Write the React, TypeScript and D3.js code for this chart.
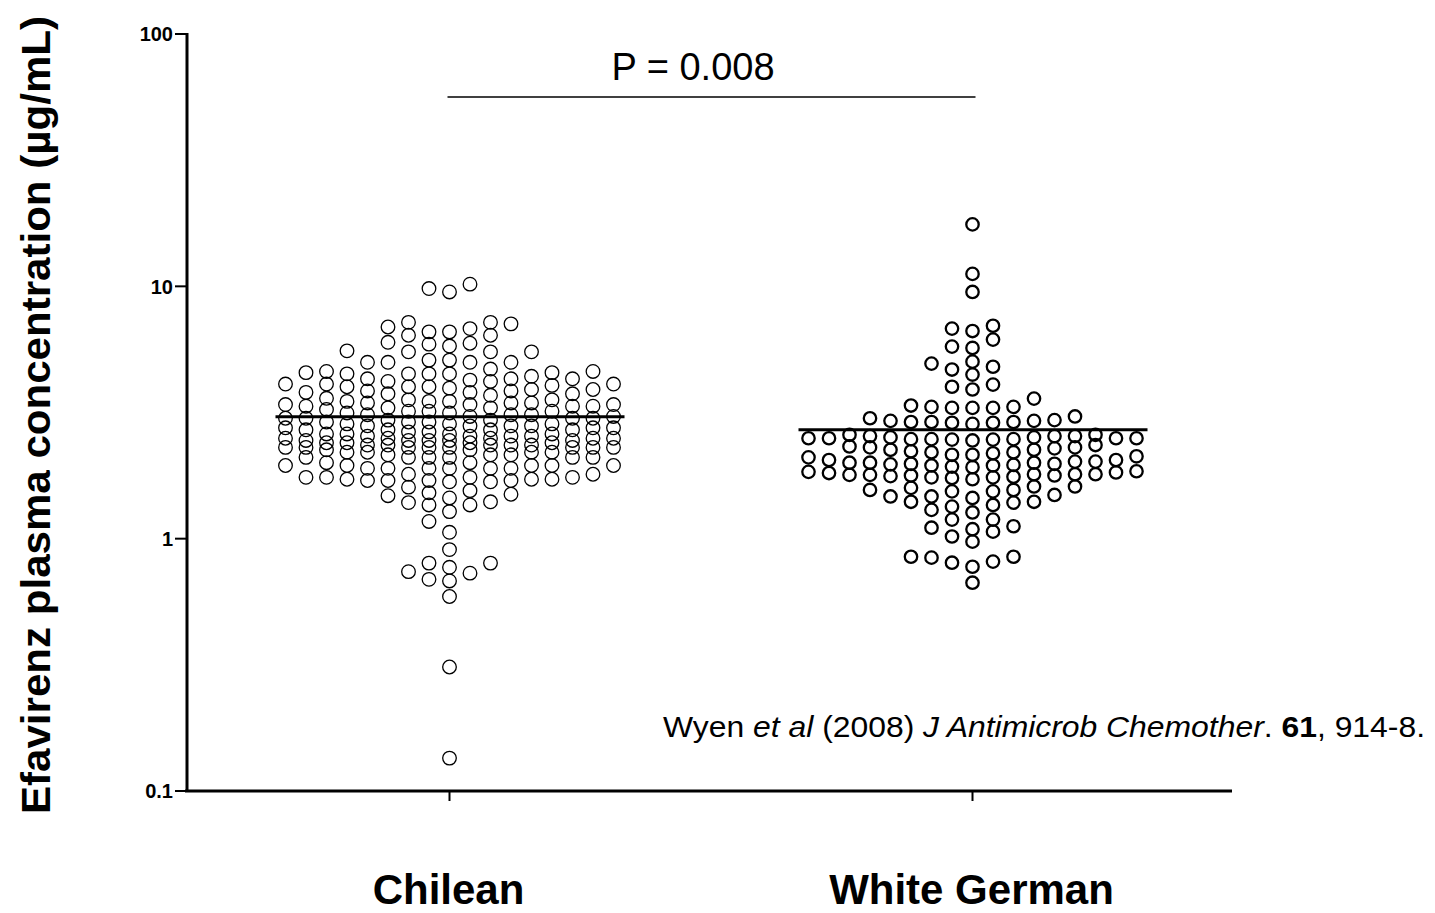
import { useEffect, useRef } from "react"
import * as d3 from "d3"

// values (µg/mL)
const chilean = [
  10.2, 9.8, 9.5,
  7.2, 7.2, 7.1, 6.9, 6.8, 6.6, 6.6, 6.4, 6.4,
  6.0, 5.95, 5.9, 5.8,
  5.55, 5.5, 5.5, 5.5,
  5.1, 5.1, 5.0, 5.0, 5.0, 5.0,
  4.7,
  4.6, 4.6, 4.55, 4.55, 4.5, 4.5, 4.5, 4.5, 4.4,
  4.3, 4.3, 4.3, 4.25, 4.2, 4.2, 4.1, 4.1, 4.1, 4.05, 4.0, 4.0, 4.0,
  3.95, 3.9, 3.9, 3.85, 3.85, 3.8, 3.8, 3.75, 3.75, 3.7,
  3.6, 3.55, 3.55, 3.5, 3.5, 3.5, 3.45, 3.45, 3.45, 3.4, 3.4, 3.4, 3.35, 3.35, 3.35, 3.3, 3.3,
  3.25, 3.2, 3.2, 3.2, 3.15, 3.15, 3.1, 3.1, 3.1, 3.05, 3.05, 3.0, 3.0, 3.0, 3.0, 2.95, 2.95,
  2.9, 2.9, 2.9, 2.85, 2.85, 2.85, 2.8, 2.8, 2.8, 2.8, 2.75, 2.75, 2.75, 2.7, 2.7, 2.7, 2.7,
  2.65, 2.65, 2.6, 2.6, 2.6, 2.6, 2.55, 2.55, 2.55, 2.55, 2.5, 2.5, 2.5, 2.5, 2.5, 2.45, 2.45, 2.45, 2.45, 2.45,
  2.4, 2.4, 2.4, 2.4, 2.35, 2.35, 2.35, 2.35, 2.35, 2.3, 2.3, 2.3, 2.3, 2.3, 2.3, 2.3, 2.3,
  2.25, 2.25, 2.2, 2.2, 2.2, 2.2, 2.15, 2.15, 2.15, 2.1, 2.1, 2.1, 2.1, 2.1, 2.1,
  2.0, 2.0, 1.95, 1.95, 1.95, 1.95, 1.95, 1.9, 1.9, 1.9, 1.9, 1.9, 1.9,
  1.8, 1.8, 1.75, 1.75, 1.75, 1.75, 1.72, 1.72, 1.72, 1.7, 1.7, 1.7, 1.7, 1.68, 1.68,
  1.6, 1.55, 1.52, 1.5, 1.48, 1.45,
  1.40, 1.39, 1.36, 1.36, 1.28, 1.17, 1.06, 0.905, 0.80, 0.80, 0.77, 0.74, 0.73, 0.69, 0.68, 0.59, 0.31, 0.135,
]

const whiteGerman = [
  17.6, 11.2, 9.5,
  6.98, 6.8, 6.65, 6.15, 5.77, 5.7,
  5.03, 4.94, 4.8, 4.68, 4.47,
  4.08, 4.0, 3.9,
  3.59, 3.37, 3.33, 3.33, 3.3, 3.3, 3.3,
  3.05, 2.95, 2.93, 2.93, 2.9, 2.9, 2.88, 2.88, 2.85, 2.9, 3.0,
  2.58, 2.55, 2.55, 2.52, 2.52, 2.5, 2.5, 2.5, 2.5, 2.48, 2.48, 2.48, 2.47, 2.47, 2.45, 2.55, 2.58,
  2.35, 2.32, 2.3, 2.3, 2.28, 2.25, 2.25, 2.22, 2.2, 2.2, 2.18, 2.15, 2.15, 2.12, 2.1,
  2.05, 2.05, 2.02, 2.02, 2.0, 2.0, 2.0, 1.98, 1.98, 1.97, 1.96, 1.95, 1.95, 1.93, 1.92,
  1.85, 1.84, 1.83, 1.82, 1.8, 1.8, 1.8, 1.79, 1.79, 1.78, 1.78, 1.77, 1.76, 1.75, 1.75, 1.74, 1.72,
  1.61, 1.61, 1.59, 1.56, 1.56, 1.54, 1.54, 1.49, 1.47, 1.47, 1.45, 1.40, 1.40, 1.39,
  1.36, 1.34, 1.30, 1.27,
  1.19, 1.19, 1.12, 1.105, 1.09, 1.066, 1.02, 0.973,
  0.848, 0.848, 0.841, 0.811, 0.803, 0.774,
  0.669,
]

const groups = ["Chilean", "White German"]
const medians = [3.04, 2.7]
const yTicks = [0.1, 1, 10, 100]
const pValue = "P = 0.008"

const FONT = "Liberation Sans, Arial, sans-serif"

// column-scatter layout like Prism: lowest values first, each into the
// nearest free column; when every column is taken the dots overlap
function swarm(values, y, colStep, maxCols, minGap) {
  const order = [0]
  for (let k = 1; k <= maxCols; k++) order.push(-k, k)
  const cols = new Map()
  const out = []
  const sorted = [...values].sort((a, b) => a - b)
  sorted.forEach(v => {
    const yy = y(v)
    let pick = null
    let bestGap = -1, bestK = 0
    for (const k of order) {
      const ys = cols.get(k) || []
      const gap = ys.length ? d3.min(ys, o => Math.abs(o - yy)) : Infinity
      if (gap >= minGap) { pick = k; break }
      if (gap > bestGap) { bestGap = gap; bestK = k }
    }
    if (pick === null) pick = bestK
    if (!cols.has(pick)) cols.set(pick, [])
    cols.get(pick).push(yy)
    out.push({ v, dx: pick * colStep })
  })
  return out
}

const App = () => {
  const ref = useRef()

  useEffect(() => {
    const width = 1435
    const height = 913

    d3.select(ref.current).selectAll("*").remove()
    const svg = d3.select(ref.current)
      .append("svg")
      .attr("width", width)
      .attr("height", height)
      .style("position", "absolute")
      .style("left", 0)
      .style("top", 0)
      .style("background", "white")

    const y = d3.scaleLog().domain([0.1, 100]).range([791, 34])
    const x = d3.scalePoint().domain(groups).range([188, 1234]).padding(0.5)

    // y axis
    svg.append("line")
      .attr("x1", 187).attr("x2", 187)
      .attr("y1", y(100) - 1).attr("y2", y(0.1) + 1)
      .attr("stroke", "black").attr("stroke-width", 3)
    const yt = svg.append("g")
    yt.selectAll("line").data(yTicks).join("line")
      .attr("x1", 175).attr("x2", 187)
      .attr("y1", d => y(d)).attr("y2", d => y(d))
      .attr("stroke", "black").attr("stroke-width", 2)
    yt.selectAll("text").data(yTicks).join("text")
      .attr("x", 173).attr("y", d => y(d))
      .attr("dy", "0.36em")
      .attr("text-anchor", "end")
      .attr("font-family", FONT).attr("font-weight", "bold").attr("font-size", 20)
      .text(d => d3.format("~g")(d))

    // x axis
    svg.append("line")
      .attr("x1", 185).attr("x2", 1232)
      .attr("y1", 791).attr("y2", 791)
      .attr("stroke", "black").attr("stroke-width", 3)
    svg.append("g").selectAll("line").data(groups).join("line")
      .attr("x1", d => x(d)).attr("x2", d => x(d))
      .attr("y1", 791).attr("y2", 801)
      .attr("stroke", "black").attr("stroke-width", 2)
    svg.append("g").selectAll("text").data(groups).join("text")
      .attr("x", d => x(d) - 1).attr("y", 904)
      .attr("text-anchor", "middle")
      .attr("font-family", FONT).attr("font-weight", "bold").attr("font-size", 42)
      .text(d => d)

    // y label
    svg.append("text")
      .attr("transform", "translate(50,415) rotate(-90)")
      .attr("text-anchor", "middle")
      .attr("font-family", FONT).attr("font-weight", "bold").attr("font-size", 41)
      .attr("textLength", 798).attr("lengthAdjust", "spacingAndGlyphs")
      .text("Efavirenz plasma concentration (µg/mL)")

    // dots
    const sets = [
      { name: groups[0], values: chilean, r: 6.8, sw: 1.3, gap: 12 },
      { name: groups[1], values: whiteGerman, r: 6.2, sw: 2.3, gap: 12 },
    ]
    sets.forEach(s => {
      const pts = swarm(s.values, y, 20.5, 8, s.gap)
      svg.append("g")
        .selectAll("circle")
        .data(pts)
        .join("circle")
        .attr("cx", d => x(s.name) + d.dx)
        .attr("cy", d => y(d.v))
        .attr("r", s.r)
        .attr("fill", "none")
        .attr("stroke", "black")
        .attr("stroke-width", s.sw)
    })

    // medians
    svg.append("g").selectAll("line").data(groups).join("line")
      .attr("x1", d => x(d) - 174).attr("x2", d => x(d) + 175)
      .attr("y1", (d, i) => y(medians[i])).attr("y2", (d, i) => y(medians[i]))
      .attr("stroke", "black").attr("stroke-width", 3)

    // significance bar
    svg.append("line")
      .attr("x1", x(groups[0]) - 2).attr("x2", x(groups[1]) + 3)
      .attr("y1", 97).attr("y2", 97)
      .attr("stroke", "black").attr("stroke-width", 1.3)
    svg.append("text")
      .attr("x", 693).attr("y", 80)
      .attr("text-anchor", "middle")
      .attr("font-family", FONT).attr("font-size", 38)
      .text(pValue)

    // citation
    const cite = svg.append("text")
      .attr("x", 663).attr("y", 737)
      .attr("font-family", FONT).attr("font-size", 30)
      .attr("textLength", 762).attr("lengthAdjust", "spacingAndGlyphs")
    cite.append("tspan").text("Wyen ")
    cite.append("tspan").attr("font-style", "italic").text("et al")
    cite.append("tspan").text(" (2008) ")
    cite.append("tspan").attr("font-style", "italic").text("J Antimicrob Chemother")
    cite.append("tspan").text(". ")
    cite.append("tspan").attr("font-weight", "bold").text("61")
    cite.append("tspan").text(", 914-8.")
  }, [])

  return <div ref={ref} />
}

export default App
